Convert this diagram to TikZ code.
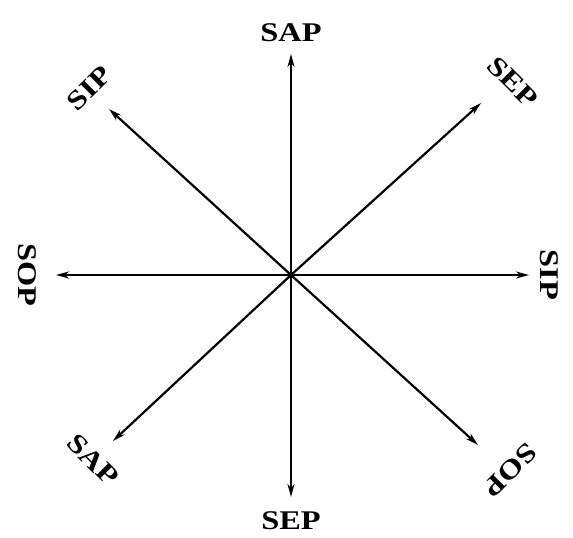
\documentclass[tikz,border=0pt]{standalone}
\usepackage{fontspec}
\setmainfont{Liberation Serif}
\usetikzlibrary{arrows.meta}
\begin{document}
\begin{tikzpicture}[x=1pt,y=-1pt,
  ray/.style={line width=2.2pt,-{Stealth[length=13pt,width=7pt]}},
  lab/.style={font=\fontsize{27}{27}\selectfont\bfseries,inner sep=0pt}]
\useasboundingbox (0,0) rectangle (573,538);
\coordinate (O) at (291,275);
\coordinate (tN) at (291,54);
\coordinate (tS) at (291,497);
\coordinate (tW) at (56,275);
\coordinate (tE) at (529,275);
\coordinate (tNW) at (109,109);
\coordinate (tNE) at (481,103);
\coordinate (tSW) at (113,441);
\coordinate (tSE) at (478,445);
\foreach \t in {tN,tS,tW,tE,tNW,tNE,tSW,tSE} \draw[ray] (O) -- (\t);
\fill (O) circle (3.5);
\node[lab] (lN) at (291,33) {\scalebox{1.2}[1]{SAP}};
\node[lab] (lS) at (291,521) {\scalebox{1.2}[1]{SEP}};
\node[lab,rotate=-90] (lW) at (27,275) {\scalebox{1.2}[1]{SOP}};
\node[lab,rotate=-90] (lE) at (549,275) {\scalebox{1.2}[1]{SIP}};
\node[lab,rotate=45] (lNW) at (89,88) {\scalebox{1.2}[1]{SIP}};
\node[lab,rotate=-45] (lNE) at (513,82) {\scalebox{1.2}[1]{SEP}};
\node[lab,rotate=-45] (lSW) at (93,460) {\scalebox{1.2}[1]{SAP}};
\node[lab,rotate=-135] (lSE) at (510,470) {\scalebox{1.2}[1]{SOP}};
\end{tikzpicture}
\end{document}
